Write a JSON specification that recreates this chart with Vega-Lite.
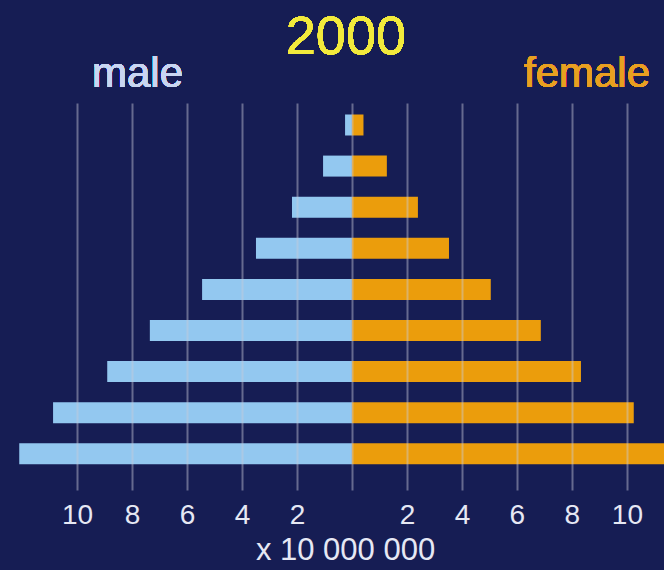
{
  "$schema": "https://vega.github.io/schema/vega-lite/v6.json",
  "autosize": {"type": "none"},
  "width": 664,
  "height": 387,
  "padding": {"left": 0, "right": 0, "top": 103, "bottom": 80},
  "background": "#161d54",
  "config": {
    "view": {"stroke": null},
    "font": "Liberation Sans"
  },
  "data": {
    "values": [
      {"group": 0, "sex": "male", "population": 0.25},
      {"group": 0, "sex": "female", "population": 0.42},
      {"group": 1, "sex": "male", "population": 1.05},
      {"group": 1, "sex": "female", "population": 1.27},
      {"group": 2, "sex": "male", "population": 2.18},
      {"group": 2, "sex": "female", "population": 2.4},
      {"group": 3, "sex": "male", "population": 3.49},
      {"group": 3, "sex": "female", "population": 3.53},
      {"group": 4, "sex": "male", "population": 5.45},
      {"group": 4, "sex": "female", "population": 5.05},
      {"group": 5, "sex": "male", "population": 7.35},
      {"group": 5, "sex": "female", "population": 6.87},
      {"group": 6, "sex": "male", "population": 8.9},
      {"group": 6, "sex": "female", "population": 8.33},
      {"group": 7, "sex": "male", "population": 10.87},
      {"group": 7, "sex": "female", "population": 10.25},
      {"group": 8, "sex": "male", "population": 12.1},
      {"group": 8, "sex": "female", "population": 12.0}
    ]
  },
  "transform": [
    {"calculate": "datum.sex === 'male' ? -datum.population : datum.population", "as": "signed"}
  ],
  "layer": [
    {
      "mark": {"type": "rule", "strokeWidth": 21, "strokeCap": "butt", "clip": true},
      "encoding": {
        "x": {
          "field": "signed",
          "type": "quantitative",
          "scale": {"domain": [-12.8, 11.35], "nice": false, "zero": false},
          "axis": {
            "values": [-10, -8, -6, -4, -2, 0, 2, 4, 6, 8, 10],
            "labelExpr": "datum.value == 0 ? '' : abs(datum.value)",
            "labelFontSize": 28,
            "labelColor": "#e6e8f4",
            "labelPadding": 11,
            "labelFont": "Liberation Sans",
            "ticks": false,
            "domain": false,
            "grid": true,
            "gridColor": "#c8cad8",
            "gridOpacity": 0.45,
            "gridWidth": 2,
            "zindex": 1,
            "title": "x 10 000 000",
            "titleFontSize": 31,
            "titleFontWeight": "normal",
            "titleColor": "#e6e8f4",
            "titlePadding": 6,
            "titleX": 345
          }
        },
        "x2": {"datum": 0},
        "y": {
          "field": "group",
          "type": "quantitative",
          "scale": {"domain": [-0.535, 8.88], "reverse": true, "nice": false, "zero": false},
          "axis": null
        },
        "color": {
          "field": "sex",
          "type": "nominal",
          "scale": {"domain": ["male", "female"], "range": ["#93c8f0", "#eb9d0c"]},
          "legend": null
        }
      }
    },
    {
      "mark": {"type": "text", "fontSize": 54, "color": "#f2ea3c", "baseline": "alphabetic", "align": "center", "text": "2000"},
      "encoding": {
        "x": {"datum": -0.22},
        "y": {"datum": -1.72}
      }
    },
    {
      "mark": {"type": "text", "fontSize": 42, "color": "#c9d6f2", "baseline": "alphabetic", "align": "center", "text": "male"},
      "encoding": {
        "x": {"datum": -7.8},
        "y": {"datum": -0.93}
      }
    },
    {
      "mark": {"type": "text", "fontSize": 42, "color": "#e8a020", "baseline": "alphabetic", "align": "center", "text": "female"},
      "encoding": {
        "x": {"datum": 8.55},
        "y": {"datum": -0.93}
      }
    }
  ]
}
